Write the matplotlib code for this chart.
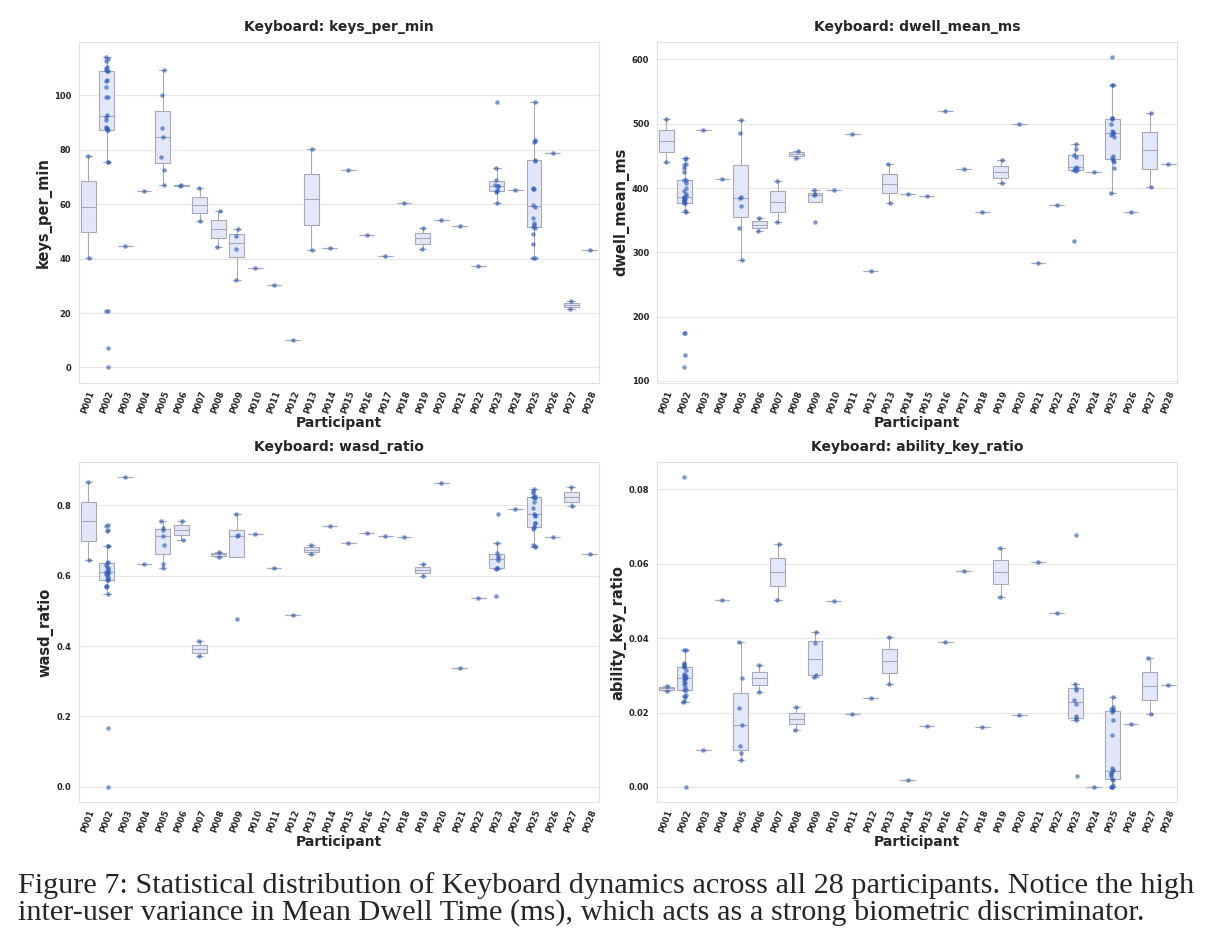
import matplotlib
matplotlib.use("Agg")
import matplotlib.pyplot as plt
import seaborn as sns
import pandas as pd

participants = ["P%03d" % i for i in range(1, 29)]

keys_per_min = [
    [77.8, 40.3],
    [0, 7, 20.7, 20.8, 75.5, 75.6, 87.2, 87.4, 87.6, 87.8, 88.1, 88.4, 91.0, 92.0,
     92.6, 99.2, 99.4, 103.0, 105.2, 105.7, 108.8, 109.0, 109.2, 110.0, 110.5, 112.5,
     113.2, 114.0],
    [44.8],
    [64.8],
    [67.1, 72.5, 77.4, 84.7, 88.0, 100.2, 109.3],
    [66.8, 67.0],
    [65.8, 53.7],
    [57.4, 44.3],
    [32.2, 43.5, 48.2, 50.9],
    [36.5],
    [30.4],
    [10.1],
    [80.3, 43.2],
    [43.8],
    [72.5],
    [48.7],
    [41.0],
    [60.4],
    [51.3, 43.5],
    [54.1],
    [52.0],
    [37.4],
    [60.3, 64.6, 64.9, 65.3, 66.6, 66.8, 67.0, 69.0, 73.3, 97.5],
    [65.2],
    [40.1, 40.3, 45.4, 49.2, 51.3, 51.7, 52.2, 53.0, 54.9, 59.0, 59.6, 65.6, 65.7,
     66.0, 76.0, 76.4, 82.7, 83.2, 83.6, 97.5],
    [78.8],
    [24.3, 21.4],
    [43.2],
]

dwell_mean_ms = [
    [507, 440],
    [121, 140, 174, 174.5, 363.5, 364, 377, 377.5, 378, 380, 381, 383, 384.5, 385,
     386, 388, 391, 396, 400, 408, 412.5, 413, 425, 431, 436, 437, 445.5, 446],
    [490],
    [414],
    [288.5, 338.3, 372.6, 384.0, 385.6, 486.3, 505.5],
    [352.9, 333.6],
    [410.5, 347.7],
    [458.3, 447.4],
    [348, 389, 391, 397],
    [396.5],
    [484.2],
    [270.3],
    [437.5, 376.7],
    [390.2],
    [388.2],
    [520],
    [429.7],
    [362.2],
    [443.2, 407.4],
    [499.3],
    [282.8],
    [374.1],
    [318, 427, 428, 429, 431, 433, 448, 452, 460, 469],
    [424.5],
    [392, 431, 441, 443, 444, 446, 450, 479, 483, 484, 486, 487, 488, 500, 508,
     508.5, 509, 560, 561, 603.6],
    [363.2],
    [516.9, 401.1],
    [438],
]

wasd_ratio = [
    [0.865, 0.643],
    [0.0, 0.167, 0.548, 0.568, 0.570, 0.571, 0.586, 0.588, 0.590, 0.596, 0.600,
     0.604, 0.606, 0.608, 0.610, 0.612, 0.616, 0.620, 0.624, 0.630, 0.636, 0.638,
     0.683, 0.684, 0.727, 0.729, 0.741, 0.743],
    [0.879],
    [0.633],
    [0.621, 0.634, 0.687, 0.711, 0.728, 0.735, 0.756],
    [0.756, 0.702],
    [0.413, 0.371],
    [0.668, 0.652],
    [0.476, 0.711, 0.715, 0.775],
    [0.718],
    [0.621],
    [0.489],
    [0.687, 0.660],
    [0.740],
    [0.692],
    [0.720],
    [0.712],
    [0.709],
    [0.633, 0.600],
    [0.862],
    [0.338],
    [0.537],
    [0.543, 0.618, 0.620, 0.622, 0.645, 0.650, 0.655, 0.663, 0.692, 0.774],
    [0.788],
    [0.680, 0.683, 0.687, 0.732, 0.737, 0.738, 0.748, 0.750, 0.770, 0.773, 0.775,
     0.792, 0.809, 0.820, 0.823, 0.823, 0.825, 0.834, 0.840, 0.845],
    [0.710],
    [0.851, 0.796],
    [0.661],
]

ability_key_ratio = [
    [0.0272, 0.0258],
    [0.0, 0.0229, 0.0231, 0.0243, 0.0245, 0.0247, 0.0260, 0.0262, 0.0270, 0.0278,
     0.0280, 0.0285, 0.0290, 0.0292, 0.0294, 0.0296, 0.0298, 0.0300, 0.0305, 0.0315,
     0.0322, 0.0324, 0.0326, 0.0330, 0.0333, 0.0367, 0.0369, 0.0833],
    [0.0099],
    [0.0502],
    [0.0073, 0.0091, 0.0109, 0.0166, 0.0212, 0.0292, 0.0390],
    [0.0329, 0.0255],
    [0.0654, 0.0503],
    [0.0214, 0.0153],
    [0.0296, 0.0302, 0.0386, 0.0417],
    [0.0499],
    [0.0197],
    [0.0238],
    [0.0403, 0.0276],
    [0.0020],
    [0.0163],
    [0.0391],
    [0.0581],
    [0.0161],
    [0.0642, 0.0512],
    [0.0193],
    [0.0605],
    [0.0469],
    [0.0030, 0.0179, 0.0185, 0.0190, 0.0222, 0.0234, 0.0260, 0.0267, 0.0277, 0.0678],
    [0.0],
    [0.0, 0.0, 0.0, 0.0005, 0.0020, 0.0021, 0.0030, 0.0035, 0.0038, 0.0042, 0.0046,
     0.0050, 0.0140, 0.0181, 0.0202, 0.0206, 0.0207, 0.0211, 0.0215, 0.0243],
    [0.0168],
    [0.0348, 0.0197],
    [0.0275],
]

metrics = ["keys_per_min", "dwell_mean_ms", "wasd_ratio", "ability_key_ratio"]
series = [keys_per_min, dwell_mean_ms, wasd_ratio, ability_key_ratio]

caption = [
    "Figure 7: Statistical distribution of Keyboard dynamics across all 28 participants. Notice the high",
    "inter-user variance in Mean Dwell Time (ms), which acts as a strong biometric discriminator.",
]

sns.set_style("whitegrid")
plt.rcParams["font.family"] = ["DejaVu Sans"]

fig = plt.figure(figsize=(12.18, 9.51), dpi=100)
positions = [
    [0.0649, 0.5973, 0.4269, 0.3589],
    [0.5394, 0.5973, 0.4273, 0.3589],
    [0.0649, 0.1562, 0.4269, 0.3583],
    [0.5394, 0.1562, 0.4273, 0.3583],
]

for name, values, pos in zip(metrics, series, positions):
    ax = fig.add_axes(pos)
    rows = [(p, v) for p, vals in zip(participants, values) for v in vals]
    df = pd.DataFrame(rows, columns=["Participant", name])

    sns.boxplot(data=df, x="Participant", y=name, order=participants, ax=ax,
                showfliers=False, color="#e3e7fa", linecolor="#a9a9b6",
                linewidth=0.8, width=0.8, saturation=1)
    sns.stripplot(data=df, x="Participant", y=name, order=participants, ax=ax,
                  color="#2f5fc4", alpha=0.65, size=3.2, jitter=0.08, linewidth=0)

    ax.set_title("Keyboard: " + name, fontsize=10, fontweight="bold",
                 color="#262626", pad=8)
    ax.set_xlabel("Participant", fontsize=10, fontweight="bold", color="#262626",
                  labelpad=1)
    ax.set_ylabel(name, fontsize=10.5, fontweight="bold", color="#262626",
                  labelpad=2)
    ax.tick_params(axis="x", labelsize=6, rotation=70, pad=1)
    ax.tick_params(axis="y", labelsize=6, pad=2)
    for lab in ax.get_xticklabels() + ax.get_yticklabels():
        lab.set_fontweight("bold")
        lab.set_color("#262626")
    for lab in ax.get_xticklabels():
        lab.set_ha("center")
    for sp in ax.spines.values():
        sp.set_color("#e2e2e2")
    ax.grid(axis="y", color="#e6e6e6", linewidth=0.8)
    ax.set_axisbelow(True)

fig.text(0.015, 0.069, caption[0], fontsize=21.8, family="Liberation Serif",
         va="center", ha="left")
fig.text(0.015, 0.040, caption[1], fontsize=21.8, family="Liberation Serif",
         va="center", ha="left")

fig.savefig("out.png", dpi=100)
